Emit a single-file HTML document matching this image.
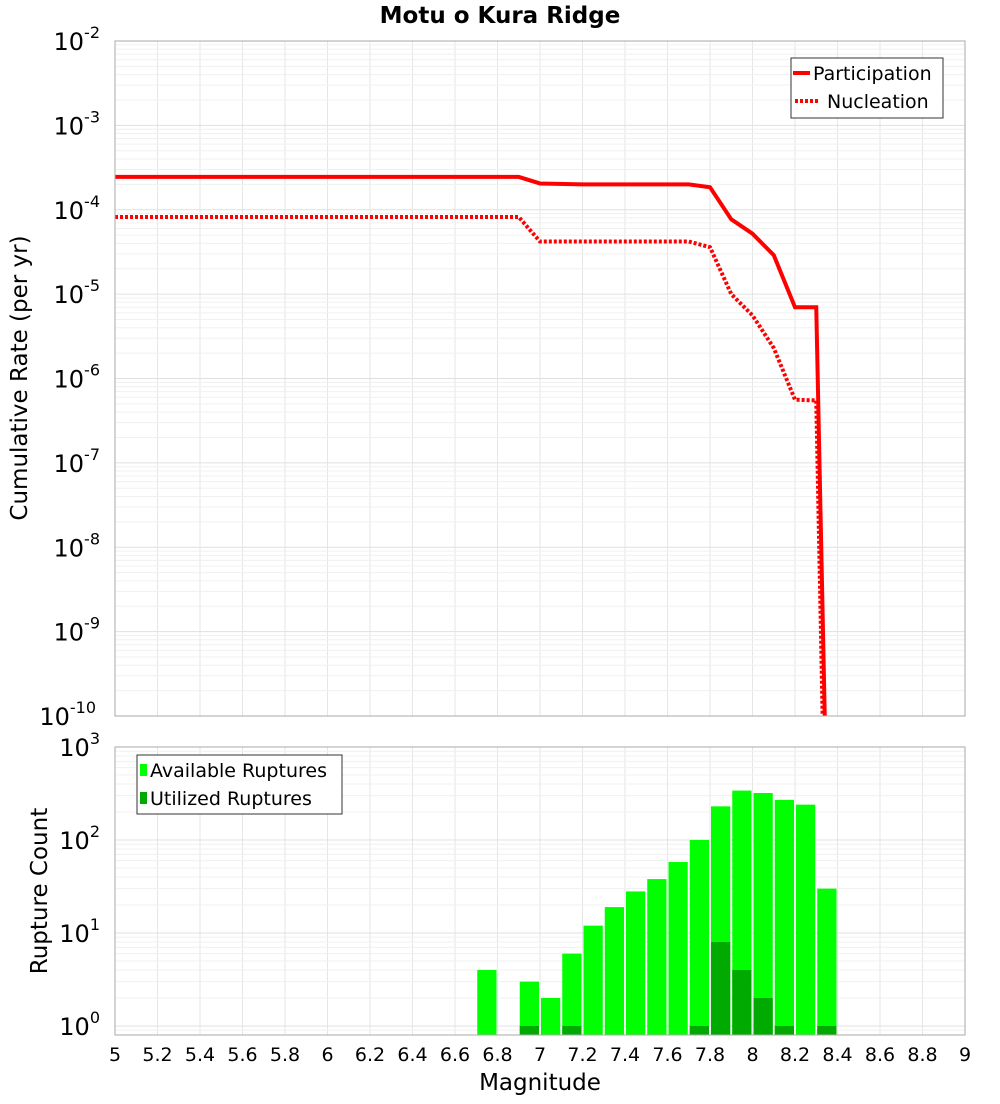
<!DOCTYPE html>
<html><head><meta charset="utf-8"><style>
body{margin:0;background:#fff;font-family:"DejaVu Sans","Liberation Sans",sans-serif}
svg text{font-family:"DejaVu Sans","Liberation Sans",sans-serif}
</style></head><body>
<svg id="c" width="1000" height="1100" xmlns="http://www.w3.org/2000/svg">
<text x="500" y="23" text-anchor="middle" font-size="23" font-weight="bold">Motu o Kura Ridge</text>
<g id="grid"></g>
<g id="marks"></g>
<rect x="115" y="41" width="850" height="675" fill="none" stroke="#aaa"/>
<rect x="115" y="747" width="850" height="288" fill="none" stroke="#aaa"/>
<g id="labels"></g>
<text transform="translate(27,378) rotate(-90)" text-anchor="middle" font-size="23">Cumulative Rate (per yr)</text>
<text transform="translate(47,891) rotate(-90)" text-anchor="middle" font-size="23">Rupture Count</text>
<text x="540" y="1090" text-anchor="middle" font-size="23">Magnitude</text>
<g>
<rect x="791" y="58" width="152" height="60" fill="#fff" stroke="#333"/>
<line x1="793" y1="73" x2="810" y2="73" stroke="red" stroke-width="4"/>
<text x="813" y="80" font-size="19">Participation</text>
<line x1="795" y1="101" x2="820" y2="101" stroke="red" stroke-width="4" stroke-dasharray="3,2"/>
<text x="827" y="108" font-size="19">Nucleation</text>
</g>
<g>
<rect x="137" y="755" width="205" height="59" fill="#fff" stroke="#333"/>
<rect x="140" y="764" width="7" height="12" fill="#00ff00"/>
<text x="150" y="777" font-size="19">Available Ruptures</text>
<rect x="140" y="792" width="7" height="12" fill="#00aa00"/>
<text x="150" y="805" font-size="19">Utilized Ruptures</text>
</g>
</svg>
<script>
const partMag=[5.0,6.9,7.0,7.2,7.7,7.8,7.9,8.0,8.1,8.2,8.3,8.34];
const partRate=[2.45e-4,2.45e-4,2.05e-4,2.0e-4,2.0e-4,1.85e-4,7.7e-5,5.2e-5,2.9e-5,7e-6,7e-6,1e-10];
const nuclMag=[5.0,6.9,7.0,7.7,7.8,7.9,8.0,8.1,8.2,8.3,8.33];
const nuclRate=[8.2e-5,8.2e-5,4.2e-5,4.2e-5,3.6e-5,1.0e-5,5.6e-6,2.3e-6,5.6e-7,5.5e-7,1e-10];
const binMag=[6.75,6.95,7.05,7.15,7.25,7.35,7.45,7.55,7.65,7.75,7.85,7.95,8.05,8.15,8.25,8.35];
const availCount=[4,3,2,6,12,19,28,38,58,100,230,340,320,270,240,30];
const usedCount=[0,1,0,1,0,0,0,0,0,1,8,4,2,1,0,1];
const xTicks=["5","5.2","5.4","5.6","5.8","6","6.2","6.4","6.6","6.8","7","7.2","7.4","7.6","7.8","8","8.2","8.4","8.6","8.8","9"];
const topExp=[-2,-3,-4,-5,-6,-7,-8,-9,-10];
const botExp=[3,2,1,0];
const NS="http://www.w3.org/2000/svg";
const X=m=>115+(m-5)*212.5;
const Yt=v=>41+(-2-Math.log10(v))*84.375;
const Yb=v=>1026-Math.log10(v)*93;
function mk(t,a,p){const e=document.createElementNS(NS,t);for(const k in a)e.setAttribute(k,a[k]);p.appendChild(e);return e;}
const grid=document.getElementById('grid'),marks=document.getElementById('marks'),labels=document.getElementById('labels');
xTicks.forEach(t=>{const x=X(+t);
 let l=mk('line',{x1:x,x2:x,y1:41,y2:716,stroke:'#e6e6e6'},grid);
 
 
 let l2=mk('line',{x1:x,x2:x,y1:747,y2:1035,stroke:'#e6e6e6'},grid);
 
 
 let tx=mk('text',{x:x,y:1061,'text-anchor':'middle','font-size':19},labels);tx.textContent=t;
 
 
});
for(let e=-10;e<-2;e++)for(let k=1;k<10;k++){const y=Yt(k*Math.pow(10,e));
 let l=mk('line',{x1:115,x2:965,y1:y,y2:y,stroke:k==1?'#e0e0e0':'#f0f0f0'},grid);
 
 }
for(let e=-1;e<3;e++)for(let k=1;k<10;k++){const y=Yb(k*Math.pow(10,e));if(y>1035||y<747)continue;
 let l=mk('line',{x1:115,x2:965,y1:y,y2:y,stroke:k==1?'#e0e0e0':'#f0f0f0'},grid);
 
 }
function expLabel(x,y,e,name){
 const t=mk('text',{x:x,y:y,'text-anchor':'end','font-size':24},labels);
 
 
 t.textContent='10';
 const s=mk('tspan',{dy:-12,'font-size':16},t);s.textContent=String(e);
}
topExp.forEach(e=>expLabel(e<=-10?96:100,Yt(Math.pow(10,e))+9,e,'top-y-tick-label'));
botExp.forEach(e=>expLabel(100,Yb(Math.pow(10,e))+9,e,'bottom-y-tick-label'));
const defs=mk('defs',{},marks);const cp=mk('clipPath',{id:'cl'},defs);mk('rect',{x:115,y:41,width:850,height:675},cp);
const pp=partMag.map((m,i)=>X(m)+','+Yt(partRate[i])).join(' ');
let p1=mk('polyline',{points:pp,fill:'none',stroke:'red','stroke-width':4,'clip-path':'url(#cl)'},marks);


const np=nuclMag.map((m,i)=>X(m)+','+Yt(nuclRate[i])).join(' ');
let p2=mk('polyline',{points:np,fill:'none',stroke:'red','stroke-width':4,'stroke-dasharray':'3,2','clip-path':'url(#cl)'},marks);


binMag.forEach((m,i)=>{const x0=X(m-0.05)+1,w=212.5*0.1-2;
 const y=Yb(availCount[i]);
 let r=mk('rect',{x:x0,y:y,width:w,height:1035-y,fill:'#00ff00'},marks);
 
 
 if(usedCount[i]>0){const yu=Yb(usedCount[i]);
  let r2=mk('rect',{x:x0,y:yu,width:w,height:1035-yu,fill:'#00aa00'},marks);
  
  }
});
</script>
</body></html>
